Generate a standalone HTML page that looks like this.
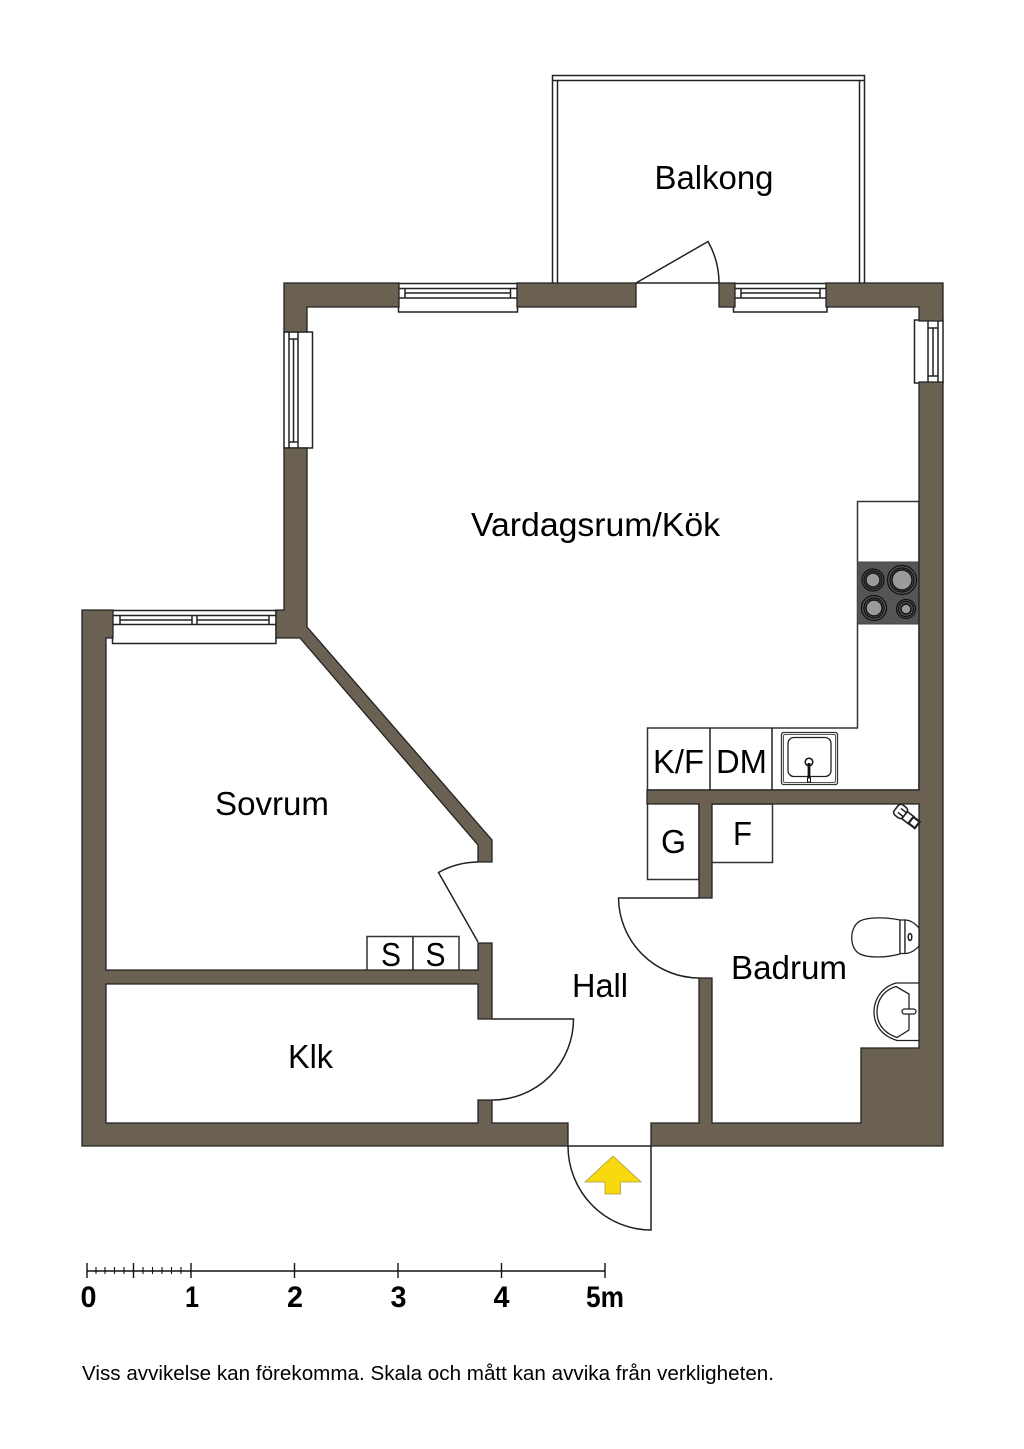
<!DOCTYPE html>
<html lang="sv">
<head>
<meta charset="utf-8">
<title>Planritning</title>
<style>
html,body{margin:0;padding:0;background:#fff;width:1024px;height:1449px;overflow:hidden}
svg{display:block}
text{font-family:"Liberation Sans",sans-serif;fill:#000}
.w{fill:#6a6152;stroke:#222;stroke-width:1.300}
.l{fill:none;stroke:#222;stroke-width:1.500}
.f{fill:#fff;stroke:#333;stroke-width:1.500}
.b{fill:#9a9a9a;stroke:#111;stroke-width:1.400}
.r{fill:none;stroke:#111;stroke-width:1.200}
</style>
</head>
<body>
<svg width="1024" height="1449" viewBox="0 0 1024 1449" xmlns="http://www.w3.org/2000/svg">
<rect width="1024" height="1449" fill="#fff"/>

<!-- Balcony -->
<path class="l" d="M552.500 283V75.500H864.500V283M557.500 283V80.500H859.500V283M552.500 80.500H557.500M859.500 80.500H864.500"/>

<!-- Kitchen counters -->
<path class="f" d="M919 501.500H857.500V728H647.500V790H919Z"/>
<path class="l" d="M710 728V790M772 728V790"/>
<rect x="857.500" y="562" width="62" height="62" fill="#555" stroke="#444"/>
<g>
<circle class="b" cx="873" cy="580" r="7"/><circle class="r" cx="873" cy="580" r="9"/><circle class="r" cx="873" cy="580" r="11"/>
<circle class="b" cx="902" cy="580" r="10"/><circle class="r" cx="902" cy="580" r="12"/><circle class="r" cx="902" cy="580" r="14.500"/>
<circle class="b" cx="874" cy="608" r="8"/><circle class="r" cx="874" cy="608" r="10"/><circle class="r" cx="874" cy="608" r="12.500"/>
<circle class="b" cx="906" cy="609" r="5"/><circle class="r" cx="906" cy="609" r="7.500"/><circle class="r" cx="906" cy="609" r="9.500"/>
</g>
<!-- Kitchen sink -->
<rect x="781.500" y="732.500" width="56" height="52" rx="2" fill="#fff" stroke="#333" stroke-width="1.300"/>
<rect x="783.500" y="734.500" width="52" height="48" rx="1.500" fill="none" stroke="#555"/>
<rect x="788" y="737.500" width="43" height="39" rx="6" fill="#fff" stroke="#222" stroke-width="1.300"/>
<circle cx="809" cy="762" r="3.800" fill="#fff" stroke="#111" stroke-width="1.500"/>
<path d="M809 763V778" stroke="#111" stroke-width="2.800"/>
<rect x="807.500" y="778" width="3" height="4" fill="#fff" stroke="#111"/>

<!-- Storage / appliances -->
<path class="f" d="M647.500 804V879.500H699V804"/>
<path class="f" d="M712 804H772.500V862.500H712"/>
<rect class="f" x="367" y="936.500" width="46" height="34"/>
<rect class="f" x="413" y="936.500" width="46" height="34"/>

<!-- Windows -->
<g fill="#fff" stroke="#222" stroke-width="1.500">
<rect x="398.500" y="283.500" width="119" height="28.500"/>
<path d="M399 288.500H517M399 298H517" fill="none"/>
<path d="M405 288.500V298M510.500 288.500V298M405 293H510.500" fill="none"/>

<rect x="733.500" y="283.500" width="93.500" height="28.500"/>
<path d="M735 288.500H826M735 298H826M741 288.500V298M820 288.500V298M741 293H820" fill="none"/>

<rect x="284" y="332" width="28.500" height="116"/>
<path d="M289 332V448M298 332V448M289 339H298M289 442H298M293.500 339V442" fill="none"/>

<rect x="914.500" y="320" width="28.500" height="63"/>
<path d="M928 320V383M938 320V383M928 328H938M928 376H938M933 328V376" fill="none"/>

<rect x="112.500" y="610.500" width="163.500" height="33"/>
<path d="M113 615.500H276M113 624.500H276M120 615.500V624.500M269 615.500V624.500M192 615.500V624.500M197 615.500V624.500M120 620H192M197 620H269" fill="none"/>
</g>

<!-- Walls -->
<g class="w">
<path d="M284 283H399V307H307V332H284Z"/>
<path d="M517 283H636V307H517Z"/>
<path d="M719 283H735V307H719Z"/>
<path d="M826 283H943V321H919V307H826Z"/>
<path d="M919 382H943V1146H651V1123H699V978H712V1123H861V1048H919V804H712V898H699V804H647V790H919Z"/>
<path d="M568 1146H82V610H113V638H106V970H478V943H492V1019H478V984H106V1123H478V1100H492V1123H568Z"/>
<path d="M284 448H307V627L492 840V862H478V845L300 638H276V610H284Z"/>
</g>

<!-- Doors -->
<g class="l">
<path d="M636 283H719"/>
<path d="M636 283L708 241.500A84 84 0 0 1 719 283"/>
<path d="M699 898H618.500A81 81 0 0 0 699 978"/>
<path d="M478 862A82 82 0 0 0 438.500 872.500L478 942"/>
<path d="M492 1019H573.500A81 81 0 0 1 492 1100"/>
<path d="M568 1146H651V1230A83 84 0 0 1 568 1146"/>
</g>
<path d="M613 1156L641 1182H620.500V1194H605V1182H585Z" fill="#f8d80e" stroke="#a89a40" stroke-width=".8"/>

<!-- Bathroom fixtures -->
<g fill="#fff" stroke="#222" stroke-width="1.300">
<path d="M900 920C885 917 868 917 860 921C849 927 849 949 860 954C868 958 885 958 900 954Z"/>
<path d="M900 920H905V953.500H900Z"/>
<path d="M905 920C913 920 919 928 919 928V946C919 946 913 953.500 905 953.500Z"/>
<ellipse cx="910" cy="937" rx="1.800" ry="3.500" stroke-width="1.500"/>

<path d="M919 983H896C882 987 874 999 874 1012C874 1025 882 1036 897 1040.500H919" fill="none"/>
<path d="M896 986.500C884 990 877 1000 877 1012C877 1024 884 1033 897 1037.500L909 1030V994Z" fill="none"/>
<rect x="902" y="1009" width="14" height="5" rx="2.500"/>

<g transform="translate(907 817) rotate(38)">
<rect x="-14" y="-7" width="11" height="13" rx="3.500" stroke-width="1.600"/>
<rect x="-3" y="-4.500" width="8" height="9" stroke-width="1.600"/>
<rect x="5" y="-4" width="8" height="8" stroke-width="2.200"/>
<path d="M-10 -3H-3M-10 2H-3" fill="none" stroke-width="1.500"/>
</g>
</g>

<!-- Room labels -->
<g font-size="33">
<text x="654.500" y="189" textLength="119" lengthAdjust="spacingAndGlyphs">Balkong</text>
<text x="471" y="536" textLength="249" lengthAdjust="spacingAndGlyphs">Vardagsrum/Kök</text>
<text x="215" y="815" textLength="114" lengthAdjust="spacingAndGlyphs">Sovrum</text>
<text x="288" y="1068" textLength="45" lengthAdjust="spacingAndGlyphs">Klk</text>
<text x="572" y="997" textLength="56" lengthAdjust="spacingAndGlyphs">Hall</text>
<text x="731" y="979" textLength="116" lengthAdjust="spacingAndGlyphs">Badrum</text>
<text x="653" y="773" textLength="51" lengthAdjust="spacingAndGlyphs">K/F</text>
<text x="716" y="773" textLength="51" lengthAdjust="spacingAndGlyphs">DM</text>
<text x="661" y="853" textLength="25" lengthAdjust="spacingAndGlyphs">G</text>
<text x="733" y="845" textLength="19" lengthAdjust="spacingAndGlyphs">F</text>
<text x="381" y="966" textLength="20" lengthAdjust="spacingAndGlyphs">S</text>
<text x="425.500" y="966" textLength="20" lengthAdjust="spacingAndGlyphs">S</text>
</g>

<!-- Scale bar -->
<g stroke="#111" stroke-width="1.400" fill="none">
<path d="M87 1271H605"/>
<path d="M87 1263V1278M191 1263V1278M294.500 1263V1278M398 1263V1278M501.500 1263V1278M605 1263V1278M133.500 1263V1278"/>
<path d="M96 1267V1274M105 1267V1274M114.500 1267V1274M124 1267V1274M143 1267V1274M152.500 1267V1274M162 1267V1274M171.500 1267V1274M181 1267V1274" stroke-width="1.100"/>
</g>
<g font-size="30" font-weight="bold">
<text x="80.500" y="1307" textLength="16" lengthAdjust="spacingAndGlyphs">0</text>
<text x="185" y="1307" textLength="14" lengthAdjust="spacingAndGlyphs">1</text>
<text x="287" y="1307" textLength="16" lengthAdjust="spacingAndGlyphs">2</text>
<text x="390.500" y="1307" textLength="16" lengthAdjust="spacingAndGlyphs">3</text>
<text x="493.500" y="1307" textLength="16" lengthAdjust="spacingAndGlyphs">4</text>
<text x="586" y="1307" textLength="38" lengthAdjust="spacingAndGlyphs">5m</text>
</g>

<text x="82" y="1380" font-size="20" textLength="692" lengthAdjust="spacingAndGlyphs">Viss avvikelse kan förekomma. Skala och mått kan avvika från verkligheten.</text>
</svg>
</body>
</html>
